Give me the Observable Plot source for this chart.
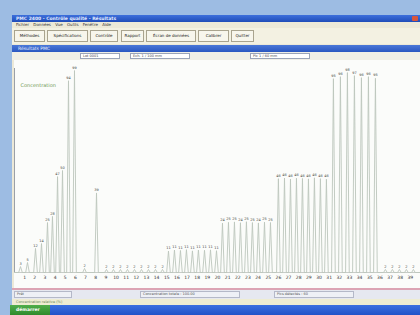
<!DOCTYPE html>
<html><head><meta charset="utf-8">
<script src="https://cdn.jsdelivr.net/npm/d3@7"></script>
<script src="https://cdn.jsdelivr.net/npm/@observablehq/plot@0.6"></script>
<style>
html,body{margin:0;padding:0;}
body{width:420px;height:315px;overflow:hidden;background:#9dbce3;position:relative;font-family:"DejaVu Sans",sans-serif;}
.a{position:absolute;box-sizing:border-box;white-space:nowrap;overflow:hidden;}
#win{left:12px;top:15px;width:408px;height:290px;background:#ece9d8;}
#title{left:0;top:0;width:408px;height:7px;background:linear-gradient(#3d6fdc,#1f4cb8);color:#e4ecff;font-size:4.5px;line-height:7px;padding-left:4px;font-weight:bold;}
#close{right:2px;top:1px;width:6px;height:5px;background:#d9563a;border-radius:1px;}
#menu{left:0;top:7px;width:408px;height:6px;font-size:4px;line-height:6px;padding-left:4px;color:#333;word-spacing:3px;}
#tools{left:0;top:13px;width:408px;height:16px;background:#f3f1e2;}
.btn{top:2px;height:12px;background:#f7f6ec;border:1px solid #a9a48e;font-size:4px;line-height:10px;text-align:center;color:#222;}
#ititle{left:0;top:30px;width:408px;height:7px;background:linear-gradient(#4a78d8,#2a57c0);color:#e8efff;font-size:4.5px;line-height:7px;padding-left:6px;}
#itools{left:0;top:37px;width:408px;height:8px;background:#f0efe6;}
.dd{top:1px;height:6px;background:#fff;border:1px solid #9aa4b8;font-size:3.5px;line-height:4px;padding-left:2px;color:#444;}
#chart{left:2px;top:45px;width:406px;height:228px;}
#pink{left:0;top:273px;width:408px;height:2px;background:#dca4b4;}
#stat{left:0;top:275px;width:408px;height:9px;background:#e6e8f0;}
.fld{top:1px;height:7px;border:1px solid #b4b8c8;background:#eef0f6;font-size:3.5px;line-height:5px;padding-left:2px;color:#555;}
#stat2{left:0;top:284px;width:408px;height:6px;background:#eeecd2;font-size:3.5px;line-height:6px;padding-left:4px;color:#6a8a5a;}
#task{left:10px;top:305px;width:410px;height:10px;background:linear-gradient(#3a6fe0,#2152c8);}
#start{left:0;top:0;width:40px;height:10px;background:linear-gradient(#4fae4a,#2f8a2c);color:#fff;font-size:4.5px;line-height:10px;padding-left:6px;font-weight:bold;}
</style></head>
<body>
<div id="win" class="a">
  <div id="title" class="a">PMC 2400 - Contrôle qualité - Résultats<div id="close" class="a"></div></div>
  <div id="menu" class="a">Fichier Données Vue Outils Fenêtre Aide</div>
  <div id="tools" class="a">
    <div class="a btn" style="left:2px;width:31px">Méthodes</div>
    <div class="a btn" style="left:35px;width:41px">Spécifications</div>
    <div class="a btn" style="left:78px;width:28px">Contrôle</div>
    <div class="a btn" style="left:109px;width:23px">Rapport</div>
    <div class="a btn" style="left:134px;width:50px">Écran de données</div>
    <div class="a btn" style="left:186px;width:31px">Calibrer</div>
    <div class="a btn" style="left:219px;width:23px">Quitter</div>
  </div>
  <div id="ititle" class="a">Résultats PMC</div>
  <div id="itools" class="a">
    <div class="a dd" style="left:68px;width:40px">Lot 0001</div>
    <div class="a dd" style="left:118px;width:60px">Ech. 1 / 100 mm</div>
    <div class="a dd" style="left:238px;width:60px">Pic 1 / 60 mm</div>
  </div>
  <div id="chart" class="a"></div>
  <div id="pink" class="a"></div>
  <div id="stat" class="a">
    <div class="a fld" style="left:2px;width:58px">Prêt</div>
    <div class="a fld" style="left:128px;width:100px">Concentration totale : 100.00</div>
    <div class="a fld" style="left:262px;width:80px">Pics détectés : 60</div>
  </div>
  <div id="stat2" class="a">Concentration relative (%)</div>
</div>
<div id="task" class="a"><div id="start" class="a">démarrer</div></div>
<script>
// Peak retention times (min) and heights (% of full scale)
const peakTimes = [0.59,1.28,2.07,2.66,3.25,3.74,4.24,4.73,5.32,5.91,6.90,8.08,
  9.06,9.75,10.44,11.13,11.82,12.51,13.20,13.89,14.58,
  15.17,15.76,16.35,16.94,17.53,18.12,18.72,19.31,19.90,
  20.49,21.08,21.67,22.26,22.85,23.44,24.03,24.63,25.22,
  26.00,26.60,27.19,27.78,28.37,28.96,29.55,30.14,30.73,
  31.42,32.11,32.80,33.49,34.18,34.87,35.56,
  36.54,37.23,37.92,38.61,39.30];
const peakHeights = [2.9,4.9,11.8,14.2,24.5,27.5,47.0,50.0,94.0,99.0,2.0,39.0,
  1.5,1.5,1.5,1.5,1.5,1.5,1.5,1.5,1.5,
  10.5,11.0,10.8,11.2,10.6,11.0,10.9,11.1,10.7,
  24.2,24.6,24.8,24.4,24.9,24.5,24.3,24.7,24.5,
  46.0,46.3,45.8,46.2,46.1,45.9,46.4,46.0,45.7,
  95.0,96.0,98.0,96.5,95.5,96.0,95.2,
  1.5,1.5,1.5,1.5,1.5];
const xTicks = [1,2,3,4,5,6,7,8,9,10,11,12,13,14,15,16,17,18,19,20,21,22,23,24,25,26,27,28,29,30,31,32,33,34,35,36,37,38,39];
const chartTitle = "Concentration";

const halfWidth = 0.18;
const trace = [{t: 0, v: 0}];
peakTimes.forEach((t, i) => {
  trace.push({t: t - halfWidth, v: 0}, {t, v: peakHeights[i]}, {t: t + halfWidth, v: 0});
});
trace.push({t: 40, v: 0});
const peaks = peakTimes.map((t, i) => ({t, v: peakHeights[i], label: String(Math.round(peakHeights[i]))}));

const chart = Plot.plot({
  width: 406, height: 228,
  marginLeft: 0, marginRight: 0, marginTop: 8, marginBottom: 16,
  style: {background: "#fbfcfa", fontFamily: "DejaVu Sans", color: "#333"},
  x: {domain: [0, 40], axis: null},
  y: {domain: [0, 100], axis: null},
  marks: [
    Plot.ruleX([0], {stroke: "#9aa0a8"}),
    Plot.ruleY([0], {stroke: "#c8ccc8"}),
    Plot.line(trace, {x: "t", y: "v", stroke: "#bcc6bc", strokeWidth: 0.9}),
    Plot.text(peaks, {x: "t", y: "v", text: "label", dy: -3, fontSize: 3.5, fill: "#444"}),
    Plot.axisX(xTicks, {tickSize: 0, tickPadding: 3, fontSize: 4.5, fill: "#333", label: null}),
    Plot.text([chartTitle], {frameAnchor: "top-left", dx: 6, dy: 15, fill: "#6f9a55", fontSize: 5})
  ]
});
document.getElementById("chart").appendChild(chart);
</script>
</body></html>
